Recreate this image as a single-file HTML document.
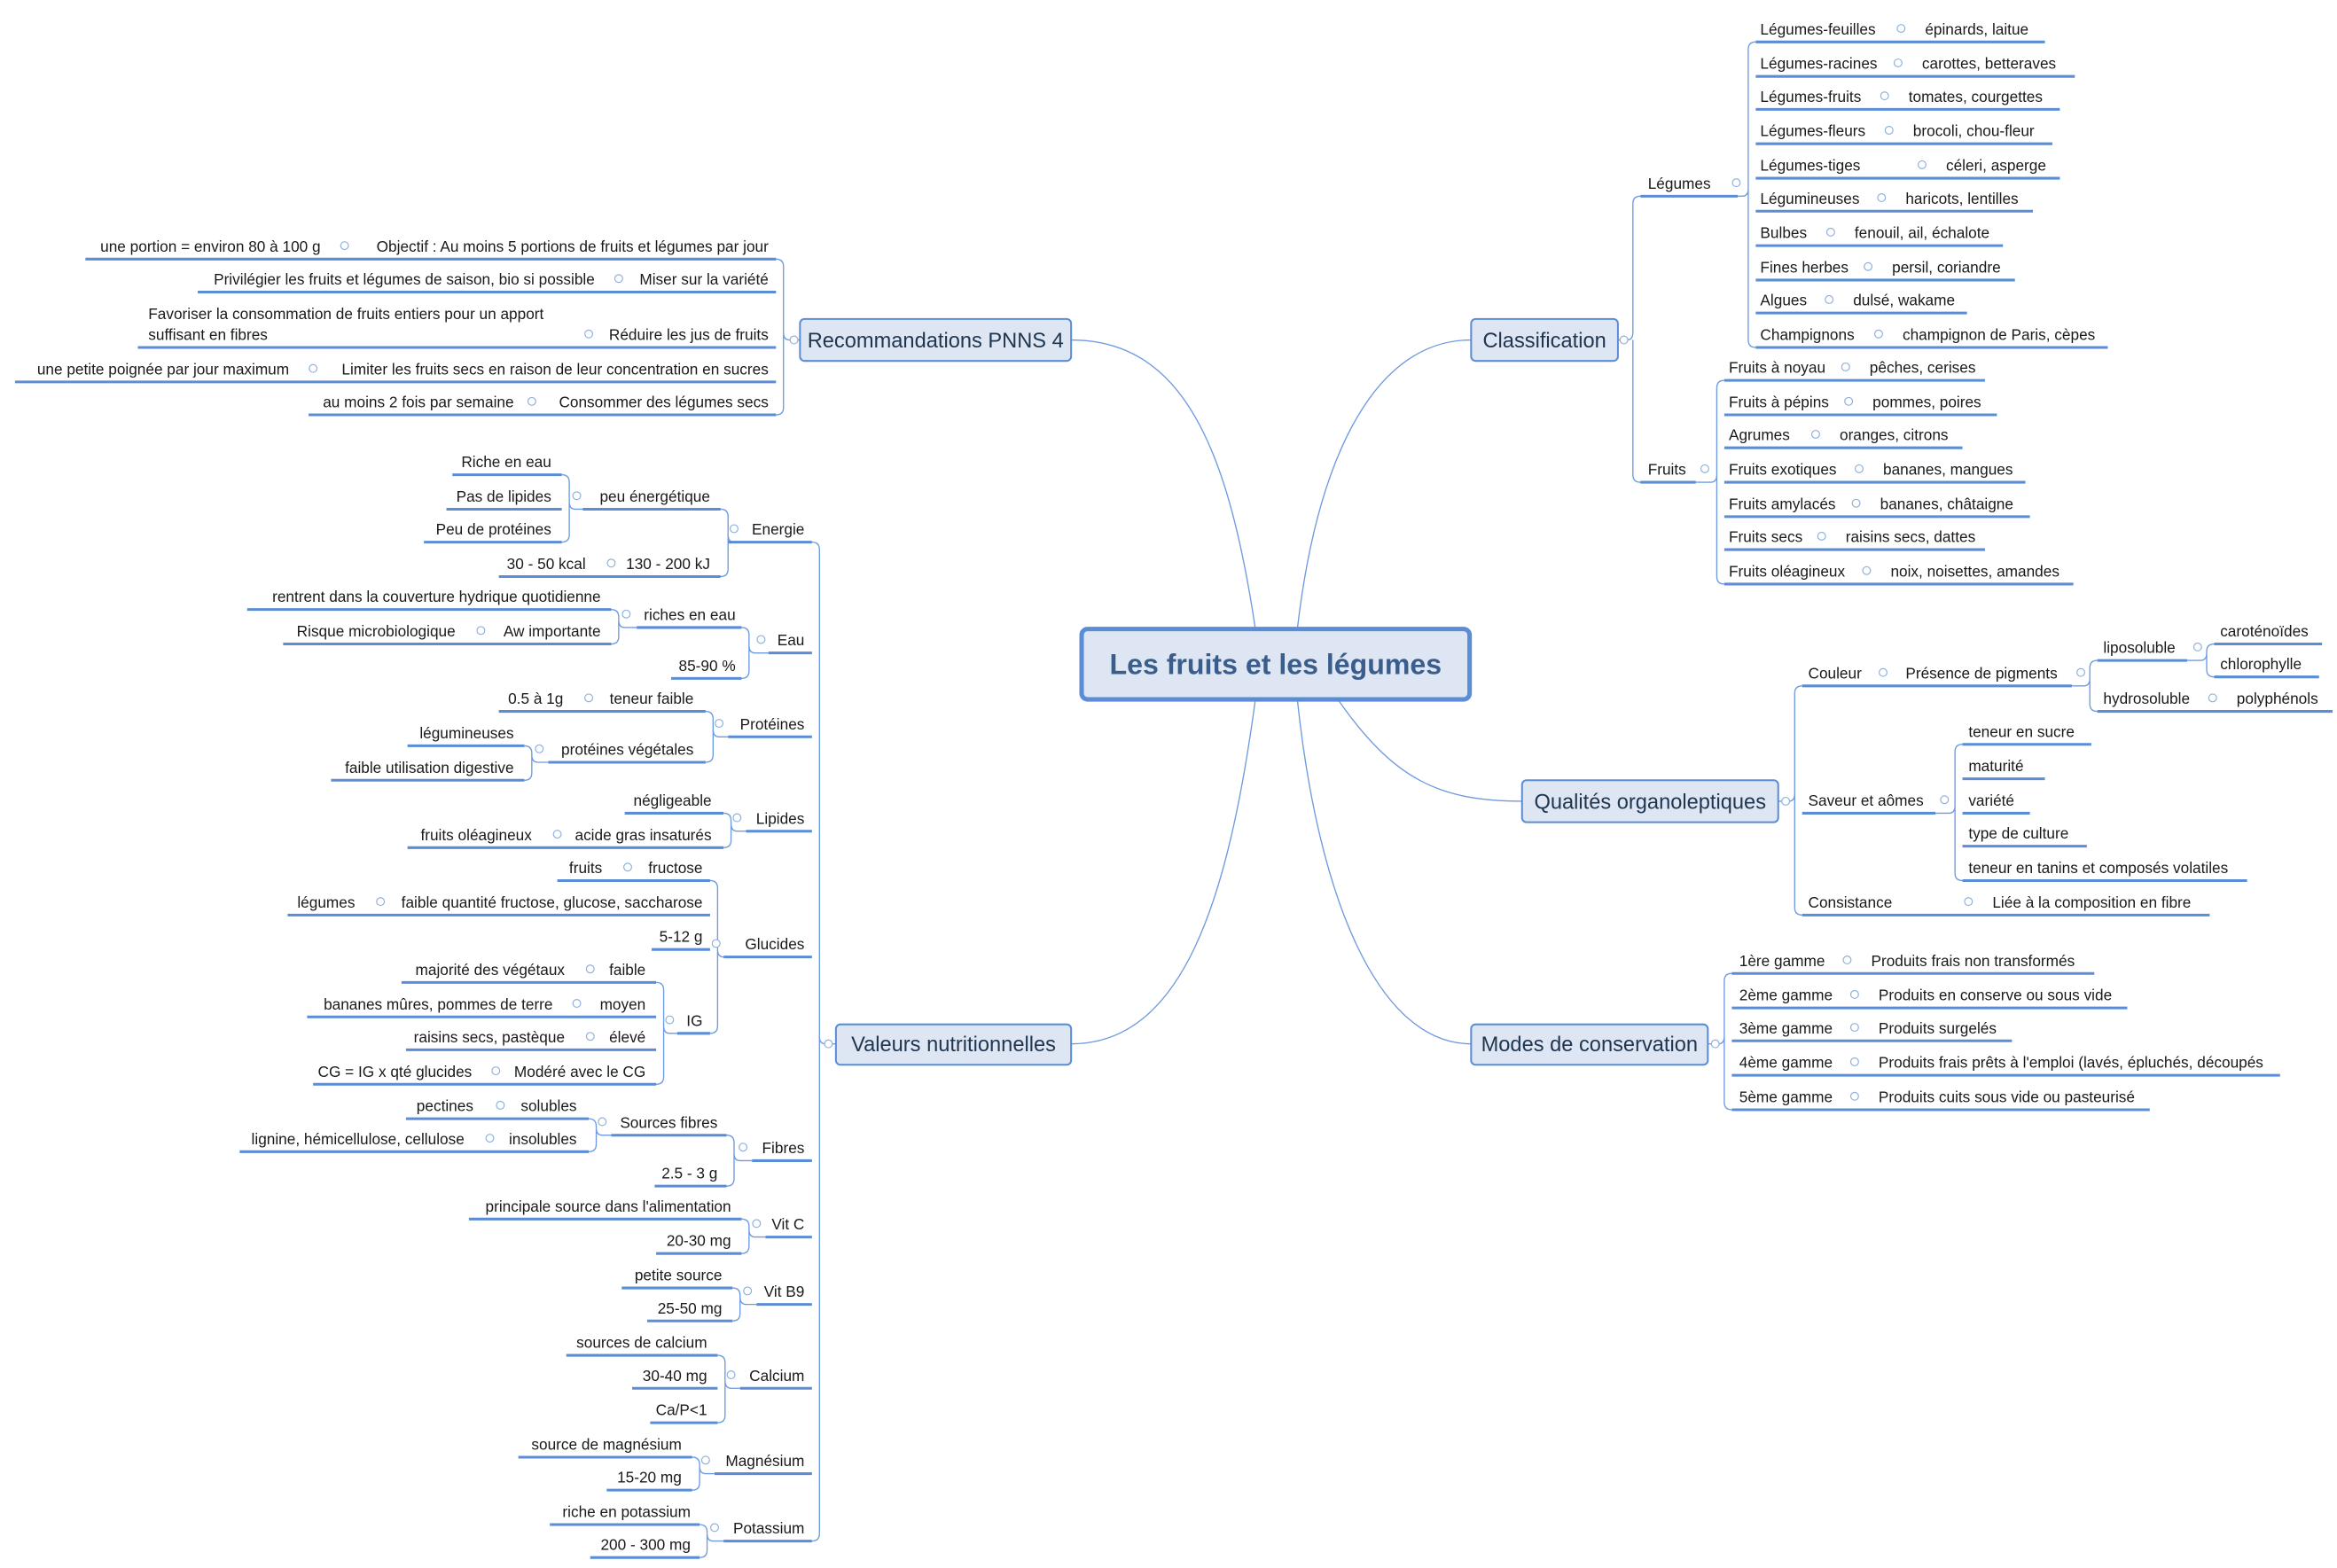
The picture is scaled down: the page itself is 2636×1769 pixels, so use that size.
<!DOCTYPE html>
<html><head><meta charset="utf-8"><style>
html,body{margin:0;padding:0;background:#fff;}
svg{display:block}
text{font-family:"Liberation Sans",sans-serif;font-size:10.2px;fill:#1a1a1a}
.r{text-anchor:end}
.s{text-anchor:start}
.u{stroke:#5b8dd6;stroke-width:1.8;fill:none}
.l{stroke:#6e9be0;stroke-width:0.8;fill:none}
.c{fill:#fff;stroke:#8fb0dd;stroke-width:0.7}
.bx{fill:#dde6f2;stroke:#5b8dd6;stroke-width:1.2}
.bt{font-size:14px;fill:#1f3550;text-anchor:middle}
</style></head><body>
<svg width="2636" height="1769" viewBox="0 0 1560 1047" preserveAspectRatio="none" xmlns="http://www.w3.org/2000/svg">
<g class="l">
<path d="M838 420 C820 300 790 227 715 227"/>
<path d="M866 420 C880 300 920 227 982 227"/>
<path d="M893 467 C930 520 960 535 1016 535"/>
<path d="M866 467 C880 600 920 697 982 697"/>
<path d="M838 467 C820 600 790 697 715 697"/>
<path d="M1080 227 H1086 Q1090 227 1090 222 V136 Q1090 131 1095 131"/>
<path d="M1090 227 V317 Q1090 322 1095 322"/>
<path d="M1160 131 H1163 Q1167 131 1167 126 V33 Q1167 28 1172 28 M1167 126 V227 Q1167 232 1172 232"/>
<path d="M1132 322 H1142 Q1146 322 1146 317 V259 Q1146 254 1151 254 M1146 317 V385 Q1146 390 1151 390"/>
<path d="M1187 535 H1194 Q1198 535 1198 530 V463 Q1198 458 1203 458 M1198 530 V606 Q1198 611 1203 611"/>
<path d="M1383 458 H1391 Q1395 458 1395 453 V446 Q1395 441 1400 441 M1395 453 V470 Q1395 475 1400 475"/>
<path d="M1460 441 H1469 Q1473 441 1473 436 V435 Q1473 430 1478 430 M1473 436 V447 Q1473 452 1478 452"/>
<path d="M1292 543 H1301 Q1305 543 1305 538 V502 Q1305 497 1310 497 M1305 538 V583 Q1305 588 1310 588"/>
<path d="M1140 697 H1147 Q1151 697 1151 692 V655 Q1151 650 1156 650 M1151 692 V736 Q1151 741 1156 741"/>
<path d="M534 227 H527 Q523 227 523 222 V178 Q523 173 518 173 M523 222 V272 Q523 277 518 277"/>
<path d="M558 697 H551 Q547 697 547 692 V367 Q547 362 542 362 M547 692 V1024 Q547 1029 542 1029"/>
<path d="M494 362 H490 Q486 362 486 357 V345 Q486 340 481 340 M486 357 V380 Q486 385 481 385"/>
<path d="M389 340 H384 Q380 340 380 335 V322 Q380 317 375 317 M380 335 V357 Q380 362 375 362"/>
<path d="M513 436 H504 Q500 436 500 431 V424 Q500 419 495 419 M500 431 V448 Q500 453 495 453"/>
<path d="M425 419 H417 Q413 419 413 414 V412 Q413 407 408 407 M413 414 V425 Q413 430 408 430"/>
<path d="M486 492 H480 Q476 492 476 487 V480 Q476 475 471 475 M476 487 V504 Q476 509 471 509"/>
<path d="M366 509 H359 Q355 509 355 504 V503 Q355 498 350 498 M355 504 V516 Q355 521 350 521"/>
<path d="M498 555 H492 Q488 555 488 550 V548 Q488 543 483 543 M488 550 V561 Q488 566 483 566"/>
<path d="M483 639 H483 Q479 639 479 634 V593 Q479 588 474 588 M479 634 V685 Q479 690 474 690"/>
<path d="M452 690 H447 Q443 690 443 685 V661 Q443 656 438 656 M443 685 V719 Q443 724 438 724"/>
<path d="M502 775 H494 Q490 775 490 770 V763 Q490 758 485 758 M490 770 V787 Q490 792 485 792"/>
<path d="M408 758 H402 Q398 758 398 753 V752 Q398 747 393 747 M398 753 V764 Q398 769 393 769"/>
<path d="M511 826 H504 Q500 826 500 821 V819 Q500 814 495 814 M500 821 V832 Q500 837 495 837"/>
<path d="M505 871 H498 Q494 871 494 866 V865 Q494 860 489 860 M494 866 V877 Q494 882 489 882"/>
<path d="M494 927 H488 Q484 927 484 922 V910 Q484 905 479 905 M484 922 V945 Q484 950 479 950"/>
<path d="M477 984 H471 Q467 984 467 979 V978 Q467 973 462 973 M467 979 V990 Q467 995 462 995"/>
<path d="M483 1029 H476 Q472 1029 472 1024 V1023 Q472 1018 467 1018 M472 1024 V1035 Q472 1040 467 1040"/>
</g>
<g class="u">
<path d="M1095 131 H1160 M1095 322 H1132"/>
<path d="M1172 28 H1365 M1172 51 H1385 M1172 73 H1375 M1172 96 H1370 M1172 119 H1375 M1172 141 H1357 M1172 164 H1337 M1172 187 H1345 M1172 209 H1313 M1172 232 H1407"/>
<path d="M1151 254 H1325 M1151 277 H1333 M1151 299 H1310 M1151 322 H1352 M1151 345 H1355 M1151 367 H1325 M1151 390 H1384"/>
<path d="M1203 458 H1383 M1400 441 H1460 M1400 475 H1557 M1478 430 H1550 M1478 452 H1548"/>
<path d="M1203 543 H1292 M1310 497 H1396 M1310 520 H1365 M1310 543 H1355 M1310 565 H1393 M1310 588 H1500 M1203 611 H1475"/>
<path d="M1156 650 H1398 M1156 673 H1420 M1156 695 H1343 M1156 718 H1522 M1156 741 H1435"/>
<path d="M57 173 H518 M132 195 H518 M92 232 H518 M10 255 H518 M206 277 H518"/>
<path d="M486 362 H542 M389 340 H481 M302 317 H375 M298 340 H375 M283 362 H375 M333 385 H481"/>
<path d="M513 436 H542 M425 419 H495 M165 407 H408 M189 430 H408 M448 453 H495"/>
<path d="M486 492 H542 M333 475 H471 M366 509 H471 M272 498 H350 M221 521 H350"/>
<path d="M498 555 H542 M417 543 H483 M272 566 H483"/>
<path d="M483 639 H542 M372 588 H474 M192 611 H474 M435 634 H474 M452 690 H474 M268 656 H438 M205 679 H438 M271 701 H438 M209 724 H438"/>
<path d="M502 775 H542 M408 758 H485 M271 747 H393 M160 769 H393 M437 792 H485"/>
<path d="M511 826 H542 M313 814 H495 M438 837 H495"/>
<path d="M505 871 H542 M415 860 H489 M432 882 H489"/>
<path d="M494 927 H542 M378 905 H479 M422 927 H479 M434 950 H479"/>
<path d="M477 984 H542 M346 973 H462 M405 995 H462"/>
<path d="M483 1029 H542 M367 1018 H467 M394 1040 H467"/>
</g>
<g class="c">
<circle cx="1084" cy="227" r="2.6"/><circle cx="1159" cy="122" r="2.6"/><circle cx="1138" cy="313" r="2.6"/>
<circle cx="1269" cy="19" r="2.6"/><circle cx="1267" cy="42" r="2.6"/><circle cx="1258" cy="64" r="2.6"/><circle cx="1261" cy="87" r="2.6"/><circle cx="1283" cy="110" r="2.6"/><circle cx="1256" cy="132" r="2.6"/><circle cx="1222" cy="155" r="2.6"/><circle cx="1247" cy="178" r="2.6"/><circle cx="1221" cy="200" r="2.6"/><circle cx="1254" cy="223" r="2.6"/>
<circle cx="1232" cy="245" r="2.6"/><circle cx="1234" cy="268" r="2.6"/><circle cx="1212" cy="290" r="2.6"/><circle cx="1241" cy="313" r="2.6"/><circle cx="1239" cy="336" r="2.6"/><circle cx="1216" cy="358" r="2.6"/><circle cx="1246" cy="381" r="2.6"/>
<circle cx="1192" cy="535" r="2.6"/><circle cx="1257" cy="449" r="2.6"/><circle cx="1389" cy="449" r="2.6"/><circle cx="1467" cy="432" r="2.6"/><circle cx="1477" cy="466" r="2.6"/><circle cx="1298" cy="534" r="2.6"/><circle cx="1314" cy="602" r="2.6"/>
<circle cx="1145" cy="697" r="2.6"/><circle cx="1233" cy="641" r="2.6"/><circle cx="1238" cy="664" r="2.6"/><circle cx="1238" cy="686" r="2.6"/><circle cx="1238" cy="709" r="2.6"/><circle cx="1238" cy="732" r="2.6"/>
<circle cx="530" cy="227" r="2.6"/><circle cx="230" cy="164" r="2.6"/><circle cx="413" cy="186" r="2.6"/><circle cx="393" cy="223" r="2.6"/><circle cx="209" cy="246" r="2.6"/><circle cx="355" cy="268" r="2.6"/>
<circle cx="553" cy="697" r="2.6"/><circle cx="490" cy="353" r="2.6"/><circle cx="385" cy="331" r="2.6"/><circle cx="408" cy="376" r="2.6"/><circle cx="508" cy="427" r="2.6"/><circle cx="418" cy="410" r="2.6"/><circle cx="321" cy="421" r="2.6"/>
<circle cx="480" cy="483" r="2.6"/><circle cx="393" cy="466" r="2.6"/><circle cx="360" cy="500" r="2.6"/><circle cx="492" cy="546" r="2.6"/><circle cx="372" cy="557" r="2.6"/>
<circle cx="478" cy="630" r="2.6"/><circle cx="419" cy="579" r="2.6"/><circle cx="254" cy="602" r="2.6"/><circle cx="447" cy="681" r="2.6"/><circle cx="394" cy="647" r="2.6"/><circle cx="385" cy="670" r="2.6"/><circle cx="394" cy="692" r="2.6"/><circle cx="331" cy="715" r="2.6"/>
<circle cx="496" cy="766" r="2.6"/><circle cx="402" cy="749" r="2.6"/><circle cx="334" cy="738" r="2.6"/><circle cx="327" cy="760" r="2.6"/>
<circle cx="505" cy="817" r="2.6"/><circle cx="499" cy="862" r="2.6"/><circle cx="488" cy="918" r="2.6"/><circle cx="471" cy="975" r="2.6"/><circle cx="477" cy="1020" r="2.6"/>
</g>
<rect x="722" y="420" width="259" height="47" rx="4" fill="#dde6f2" stroke="#5b8dd6" stroke-width="3"/>
<text x="851.5" y="450" style="font-size:19px;font-weight:bold;fill:#3a5d8c;text-anchor:middle">Les fruits et les légumes</text>
<rect class="bx" x="982" y="213" width="98" height="28" rx="3"/><text class="bt" x="1031" y="232">Classification</text>
<rect class="bx" x="1016" y="521" width="171" height="28" rx="3"/><text class="bt" x="1101.5" y="540">Qualités organoleptiques</text>
<rect class="bx" x="982" y="684" width="158" height="27" rx="3"/><text class="bt" x="1061" y="702">Modes de conservation</text>
<rect class="bx" x="534" y="213" width="181" height="28" rx="3"/><text class="bt" x="624.5" y="232">Recommandations PNNS 4</text>
<rect class="bx" x="558" y="684" width="157" height="27" rx="3"/><text class="bt" x="636.5" y="702">Valeurs nutritionnelles</text>
<g>
<text x="1100" y="126">Légumes</text><text x="1100" y="317">Fruits</text>
<text x="1175" y="23">Légumes-feuilles</text><text x="1285" y="23">épinards, laitue</text>
<text x="1175" y="46">Légumes-racines</text><text x="1283" y="46">carottes, betteraves</text>
<text x="1175" y="68">Légumes-fruits</text><text x="1274" y="68">tomates, courgettes</text>
<text x="1175" y="91">Légumes-fleurs</text><text x="1277" y="91">brocoli, chou-fleur</text>
<text x="1175" y="114">Légumes-tiges</text><text x="1299" y="114">céleri, asperge</text>
<text x="1175" y="136">Légumineuses</text><text x="1272" y="136">haricots, lentilles</text>
<text x="1175" y="159">Bulbes</text><text x="1238" y="159">fenouil, ail, échalote</text>
<text x="1175" y="182">Fines herbes</text><text x="1263" y="182">persil, coriandre</text>
<text x="1175" y="204">Algues</text><text x="1237" y="204">dulsé, wakame</text>
<text x="1175" y="227">Champignons</text><text x="1270" y="227">champignon de Paris, cèpes</text>
<text x="1154" y="249">Fruits à noyau</text><text x="1248" y="249">pêches, cerises</text>
<text x="1154" y="272">Fruits à pépins</text><text x="1250" y="272">pommes, poires</text>
<text x="1154" y="294">Agrumes</text><text x="1228" y="294">oranges, citrons</text>
<text x="1154" y="317">Fruits exotiques</text><text x="1257" y="317">bananes, mangues</text>
<text x="1154" y="340">Fruits amylacés</text><text x="1255" y="340">bananes, châtaigne</text>
<text x="1154" y="362">Fruits secs</text><text x="1232" y="362">raisins secs, dattes</text>
<text x="1154" y="385">Fruits oléagineux</text><text x="1262" y="385">noix, noisettes, amandes</text>
<text x="1207" y="453">Couleur</text><text x="1272" y="453">Présence de pigments</text>
<text x="1404" y="436">liposoluble</text><text x="1404" y="470">hydrosoluble</text>
<text x="1482" y="425">caroténoïdes</text><text x="1482" y="447">chlorophylle</text><text x="1493" y="470">polyphénols</text>
<text x="1207" y="538">Saveur et aômes</text>
<text x="1314" y="492">teneur en sucre</text><text x="1314" y="515">maturité</text><text x="1314" y="538">variété</text><text x="1314" y="560">type de culture</text><text x="1314" y="583">teneur en tanins et composés volatiles</text>
<text x="1207" y="606">Consistance</text><text x="1330" y="606">Liée à la composition en fibre</text>
<text x="1161" y="645">1ère gamme</text><text x="1249" y="645">Produits frais non transformés</text>
<text x="1161" y="668">2ème gamme</text><text x="1254" y="668">Produits en conserve ou sous vide</text>
<text x="1161" y="690">3ème gamme</text><text x="1254" y="690">Produits surgelés</text>
<text x="1161" y="713">4ème gamme</text><text x="1254" y="713">Produits frais prêts à l'emploi (lavés, épluchés, découpés</text>
<text x="1161" y="736">5ème gamme</text><text x="1254" y="736">Produits cuits sous vide ou pasteurisé</text>
</g>
<text class="s" x="99" y="213">Favoriser la consommation de fruits entiers pour un apport</text><text class="s" x="99" y="227">suffisant en fibres</text>
<g>
<text class="r" x="513" y="168">Objectif : Au moins 5 portions de fruits et légumes par jour</text><text class="r" x="214" y="168">une portion = environ 80 à 100 g</text>
<text class="r" x="513" y="190">Miser sur la variété</text><text class="r" x="397" y="190">Privilégier les fruits et légumes de saison, bio si possible</text>
<text class="r" x="513" y="227">Réduire les jus de fruits</text>
<text class="r" x="513" y="250">Limiter les fruits secs en raison de leur concentration en sucres</text><text class="r" x="193" y="250">une petite poignée par jour maximum</text>
<text class="r" x="513" y="272">Consommer des légumes secs</text><text class="r" x="343" y="272">au moins 2 fois par semaine</text>
<text class="r" x="537" y="357">Energie</text>
<text class="r" x="474" y="335">peu énergétique</text>
<text class="r" x="368" y="312">Riche en eau</text><text class="r" x="368" y="335">Pas de lipides</text><text class="r" x="368" y="357">Peu de protéines</text>
<text class="r" x="474" y="380">130 - 200 kJ</text><text class="r" x="391" y="380">30 - 50 kcal</text>
<text class="r" x="537" y="431">Eau</text>
<text class="r" x="491" y="414">riches en eau</text><text class="r" x="401" y="402">rentrent dans la couverture hydrique quotidienne</text>
<text class="r" x="401" y="425">Aw importante</text><text class="r" x="304" y="425">Risque microbiologique</text>
<text class="r" x="491" y="448">85-90 %</text>
<text class="r" x="537" y="487">Protéines</text>
<text class="r" x="463" y="470">teneur faible</text><text class="r" x="376" y="470">0.5 à 1g</text>
<text class="r" x="463" y="504">protéines végétales</text><text class="r" x="343" y="493">légumineuses</text><text class="r" x="343" y="516">faible utilisation digestive</text>
<text class="r" x="537" y="550">Lipides</text>
<text class="r" x="475" y="538">négligeable</text><text class="r" x="475" y="561">acide gras insaturés</text><text class="r" x="355" y="561">fruits oléagineux</text>
<text class="r" x="537" y="634">Glucides</text>
<text class="r" x="469" y="583">fructose</text><text class="r" x="402" y="583">fruits</text>
<text class="r" x="469" y="606">faible quantité fructose, glucose, saccharose</text><text class="r" x="237" y="606">légumes</text>
<text class="r" x="469" y="629">5-12 g</text>
<text class="r" x="469" y="685">IG</text>
<text class="r" x="431" y="651">faible</text><text class="r" x="377" y="651">majorité des végétaux</text>
<text class="r" x="431" y="674">moyen</text><text class="r" x="369" y="674">bananes mûres, pommes de terre</text>
<text class="r" x="431" y="696">élevé</text><text class="r" x="377" y="696">raisins secs, pastèque</text>
<text class="r" x="431" y="719">Modéré avec le CG</text><text class="r" x="315" y="719">CG = IG x qté glucides</text>
<text class="r" x="537" y="770">Fibres</text>
<text class="r" x="479" y="753">Sources fibres</text>
<text class="r" x="385" y="742">solubles</text><text class="r" x="316" y="742">pectines</text>
<text class="r" x="385" y="764">insolubles</text><text class="r" x="310" y="764">lignine, hémicellulose, cellulose</text>
<text class="r" x="479" y="787">2.5 - 3 g</text>
<text class="r" x="537" y="821">Vit C</text>
<text class="r" x="488" y="809">principale source dans l'alimentation</text><text class="r" x="488" y="832">20-30 mg</text>
<text class="r" x="537" y="866">Vit B9</text>
<text class="r" x="482" y="855">petite source</text><text class="r" x="482" y="877">25-50 mg</text>
<text class="r" x="537" y="922">Calcium</text>
<text class="r" x="472" y="900">sources de calcium</text><text class="r" x="472" y="922">30-40 mg</text><text class="r" x="472" y="945">Ca/P&lt;1</text>
<text class="r" x="537" y="979">Magnésium</text>
<text class="r" x="455" y="968">source de magnésium</text><text class="r" x="455" y="990">15-20 mg</text>
<text class="r" x="537" y="1024">Potassium</text>
<text class="r" x="461" y="1013">riche en potassium</text><text class="r" x="461" y="1035">200 - 300 mg</text>
</g>
</svg>
</body></html>
